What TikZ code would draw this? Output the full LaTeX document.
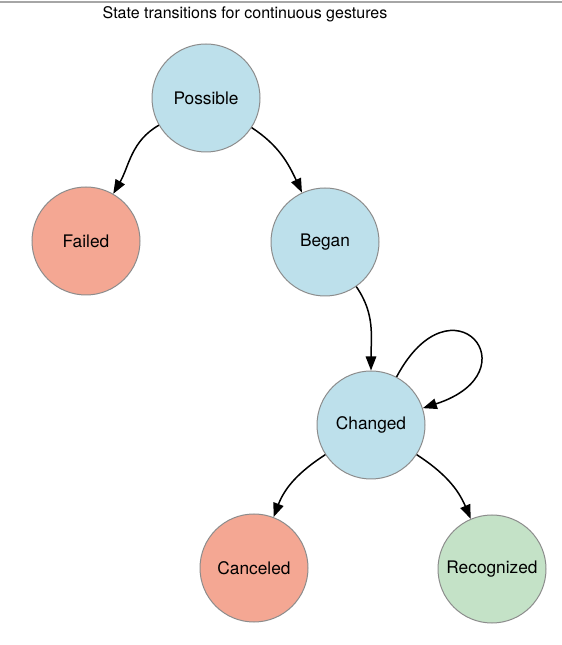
\documentclass[tikz,border=0pt]{standalone}
\usepackage{fontspec}
\setmainfont{TeX Gyre Heros}
\usetikzlibrary{arrows.meta}
\definecolor{stblue}{HTML}{BDE0EB}
\definecolor{stred}{HTML}{F4A793}
\definecolor{stgreen}{HTML}{C4E2C7}
\definecolor{stborder}{HTML}{8C8C8C}
\begin{document}
\begin{tikzpicture}[x=1pt,y=1pt,
    state/.style={circle,draw=stborder,line width=1pt,minimum size=108pt,inner sep=0pt,font=\fontsize{17.3}{20}\selectfont},
    trans/.style={-{Triangle[length=14pt,width=10.5pt]},line width=1.5pt}]
  \useasboundingbox (0,0) rectangle (562,645);
  \draw[black!35,line width=1.5pt] (0,643) -- (562,643);
  \node[font=\fontsize{16}{19}\selectfont] (title) at (245,631) {State transitions for continuous gestures};
  \node[state,fill=stblue] (possible) at (206,547) {Possible};
  \node[state,fill=stred] (failed) at (86,404) {Failed};
  \node[state,fill=stblue] (began) at (325,403) {Began};
  \node[state,fill=stblue] (changed) at (371,220) {Changed};
  \node[state,fill=stred] (canceled) at (254,77) {Canceled};
  \node[state,fill=stgreen] (recognized) at (492,76) {Recognized};
  \draw[trans] (possible) to[out=210,in=60] (failed);
  \draw[trans] (possible) to[out=-33,in=115] (began);
  \draw[trans] (began) to[out=-55,in=90] (changed);
  \draw[trans] (changed) to[out=62,in=18,distance=118pt] (changed);
  \draw[trans] (changed) to[out=213,in=69] (canceled);
  \draw[trans] (changed) to[out=-33,in=113] (recognized);
\end{tikzpicture}
\end{document}
